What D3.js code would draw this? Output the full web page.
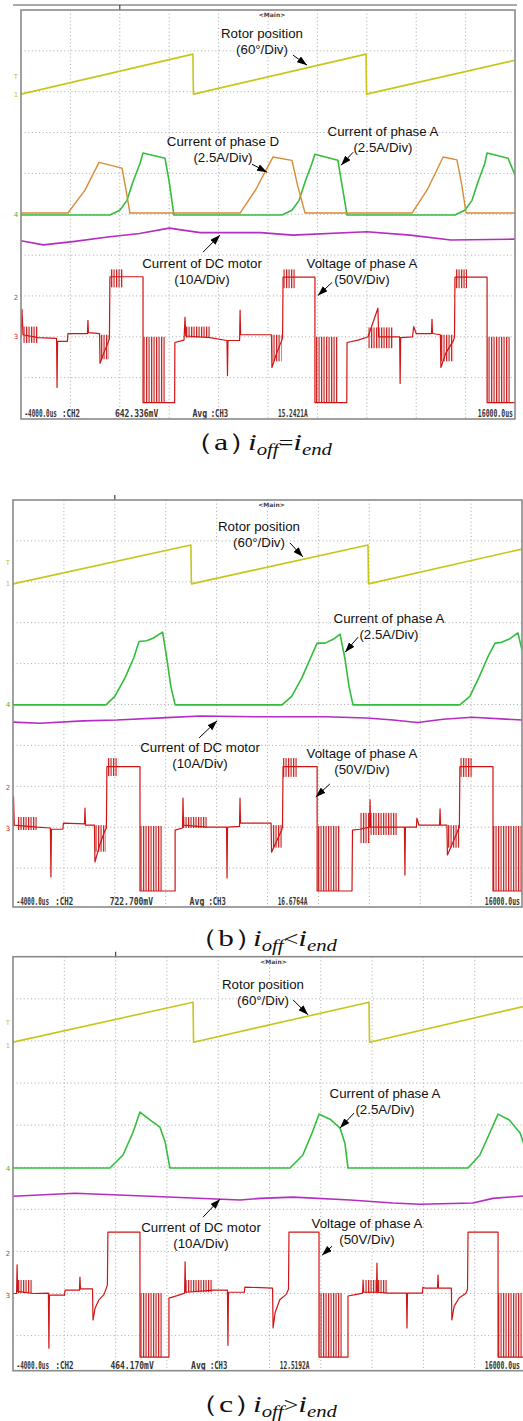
<!DOCTYPE html>
<html>
<head>
<meta charset="utf-8">
<script src="https://cdn.jsdelivr.net/npm/d3@7"></script>
<style>
  body { margin: 0; background: #fff; }
  line.grid { stroke: #a8a8a8; stroke-width: 1; stroke-dasharray: 1,2.6; }
  rect.frame { fill: none; stroke: #8a8a8a; stroke-width: 1.6; }
  path.trace { fill: none; stroke-linejoin: round; }
  text.lbl { font-family: "Liberation Sans", Arial, sans-serif; font-size: 13.3px; fill: #111; text-anchor: middle; }
  text.stat { font-family: "DejaVu Sans Mono", monospace; font-weight: bold; font-size: 10px; fill: #333; }
  text.mark { font-family: "DejaVu Sans", sans-serif; font-size: 7px; }
  text.cap { font-family: "Liberation Serif", "Times New Roman", serif; font-size: 24px; fill: #111; }
</style>
</head>
<body>
<svg id="fig" width="523" height="1421"></svg>
<script>
// time axis of the scope: -4000us .. 16000us, 2 ms/div ; vertical in divisions (+5 top, -5 bottom)
const timeDomain = [-4, 16];

// ---- (a) i_off = i_end ----
const rotorA = [[-4,2.94],[2.96,3.92],[2.98,2.94],[9.97,3.92],[9.99,2.94],[16,3.77]];
const phaseDA = [[-4,0.03],[-2.10,0.03],[-1.41,0.59],[-0.84,1.27],[0.09,1.13],[0.25,0.6],[0.41,0.03],
  [4.87,0.03],[5.5,0.6],[6.20,1.40],[6.97,1.32],[7.2,0.7],[7.50,0.03],
  [11.83,0.03],[12.45,0.6],[13.09,1.40],[13.65,1.33],[13.85,0.7],[14.02,0.03],[16,0.03]];
const phaseAA = [[-4,-0.02],[-0.40,-0.02],[0.0,0.1],[0.29,0.34],[0.53,0.79],[0.82,1.25],[0.94,1.50],[1.83,1.37],[2.0,0.8],[2.19,-0.02],
  [6.57,-0.02],[6.97,0.1],[7.26,0.34],[7.5,0.79],[7.78,1.25],[7.90,1.47],[8.83,1.32],[9.0,0.7],[9.20,-0.02],
  [13.57,-0.02],[13.97,0.1],[14.26,0.34],[14.5,0.79],[14.78,1.25],[14.87,1.50],[15.72,1.37],[16,0.96]];
const dcA = [[-4,-0.65],[-3.1,-0.75],[-1.9,-0.67],[-0.4,-0.55],[0.8,-0.47],[2.0,-0.34],[3.25,-0.45],[5.7,-0.45],
  [7.0,-0.51],[10.0,-0.43],[11.75,-0.51],[13.4,-0.63],[16,-0.61]];
const voltA = [[-4.00,-3.02],[-3.96,-2.33],[-3.92,-2.95],[-3.31,-3.02],[-2.56,-3.04],[-2.54,-4.24],[-2.52,-3.11],
  [-2.12,-3.11],[-2.10,-2.92],[-1.31,-2.92],[-1.29,-2.60],[-1.27,-2.90],[-0.82,-2.92],[-0.80,-3.65],[-0.65,-3.4],
  [-0.45,-3.1],[-0.42,-3.05],[-0.40,-1.53],[0.94,-1.53],[0.94,-4.61],[2.22,-4.61],[2.23,-3.14],[2.60,-3.08],[2.64,-2.52],
  [2.67,-2.98],[3.65,-3.02],[4.34,-3.09],[4.36,-3.95],[4.38,-3.09],[4.85,-3.09],[4.87,-2.35],[4.89,-2.95],
  [6.14,-2.95],[6.16,-3.75],[6.35,-3.4],[6.55,-3.1],[6.59,-3.02],[6.61,-1.54],[7.90,-1.54],[7.90,-4.61],[9.19,-4.61],
  [9.20,-3.14],[9.65,-3.08],[10.05,-3.0],[10.45,-2.30],[10.48,-3.0],[11.33,-3.0],[11.35,-4.14],[11.37,-3.02],
  [11.85,-3.0],[11.9,-2.75],[12.0,-2.92],[12.62,-2.92],[12.64,-2.57],[12.66,-2.92],[12.98,-2.95],[13.0,-3.75],
  [13.2,-3.4],[13.5,-3.1],[13.55,-3.02],[13.57,-1.54],[14.87,-1.54],[14.87,-4.61],[16,-4.61]];
// chopped (PWM) bands of the voltage: [t0, t1, top, bottom]
const chopA = [[-3.92,-3.31,-2.75,-3.15],[-0.80,-0.45,-2.95,-3.55],[-0.40,0.13,-1.35,-1.79],[0.94,1.83,-3.0,-4.61],
  [2.64,3.65,-2.75,-3.02],[6.16,6.55,-2.95,-3.6],[6.61,7.13,-1.35,-1.81],[7.90,8.83,-3.0,-4.61],
  [10.05,11.06,-2.77,-3.28],[13.0,13.5,-2.95,-3.6],[13.57,14.06,-1.35,-1.81],[14.87,15.8,-3.0,-4.61]];
const markA = [3.38, 2.94, 0, -2.05, -3.0];
const statusA = ["-4000.0us", ":CH2", "642.336mV", "Avg", ":CH3", "15.2421A", "16000.0us"];

// ---- (b) i_off < i_end ----
const rotorB = [[-4,2.95],[2.99,3.90],[3.01,2.95],[9.95,3.90],[9.97,2.95],[16,3.80]];
const phaseAB = [[-4,-0.01],[-0.35,-0.01],[0.0,0.2],[0.4,0.65],[0.75,1.15],[0.95,1.54],[1.25,1.56],[1.5,1.62],[1.88,1.77],
  [2.05,1.1],[2.2,0.45],[2.37,-0.01],
  [6.57,-0.01],[6.95,0.2],[7.35,0.65],[7.7,1.15],[7.95,1.50],[8.26,1.50],[8.6,1.6],[8.85,1.72],[9.05,1.1],[9.2,0.45],[9.36,-0.01],
  [13.56,-0.01],[13.95,0.2],[14.3,0.65],[14.65,1.15],[14.94,1.50],[15.2,1.52],[15.5,1.6],[15.84,1.75],[16,1.33]];
const dcB = [[-4,-0.43],[-2.94,-0.46],[-1.24,-0.40],[0.07,-0.38],[2.04,-0.32],[3.35,-0.28],[5.7,-0.30],[8.3,-0.30],
  [9.9,-0.33],[10.93,-0.38],[11.9,-0.44],[12.9,-0.36],[14.05,-0.31],[16,-0.38]];
const voltB = [[-4,-3.0],[-3.98,-2.26],[-3.95,-2.95],[-3.06,-3.0],[-2.53,-3.02],[-2.51,-4.22],[-2.49,-3.05],
  [-2.04,-3.05],[-2.02,-2.90],[-1.19,-2.92],[-1.17,-2.53],[-1.15,-2.95],[-0.80,-2.95],[-0.78,-3.85],[-0.6,-3.45],
  [-0.4,-3.1],[-0.33,-3.02],[-0.31,-1.52],[0.99,-1.52],[0.99,-4.56],[2.37,-4.56],[2.37,-3.07],[2.66,-3.02],[2.68,-2.29],
  [2.70,-2.95],[3.62,-3.0],[4.39,-3.0],[4.41,-4.24],[4.43,-3.0],[4.90,-2.98],[4.92,-2.29],[4.94,-2.9],[6.14,-2.90],
  [6.16,-3.61],[6.35,-3.35],[6.55,-3.08],[6.59,-3.0],[6.61,-1.52],[7.95,-1.52],[7.95,-4.56],[9.32,-4.56],[9.34,-3.07],
  [9.63,-3.05],[10.01,-3.0],[10.03,-2.33],[10.05,-3.0],[11.09,-3.0],[11.38,-3.0],[11.40,-4.17],[11.42,-3.0],
  [11.85,-3.0],[11.87,-2.78],[11.95,-2.95],[12.76,-2.95],[12.78,-2.55],[12.80,-2.95],[13.05,-2.95],[13.07,-3.68],
  [13.3,-3.35],[13.5,-3.05],[13.54,-3.0],[13.56,-1.52],[14.86,-1.52],[14.86,-4.56],[16,-4.56]];
const chopB = [[-3.84,-3.06,-2.75,-3.07],[-0.78,-0.35,-2.95,-3.6],[-0.31,0.13,-1.31,-1.75],[0.99,1.89,-2.97,-4.56],
  [2.68,3.62,-2.75,-3.02],[6.16,6.57,-2.95,-3.5],[6.61,7.16,-1.31,-1.77],[7.95,8.85,-2.97,-4.56],
  [9.63,10.03,-2.65,-3.39],[10.03,11.09,-2.65,-3.19],[13.07,13.54,-2.95,-3.5],[13.56,14.07,-1.31,-1.77],
  [14.86,16,-2.97,-4.56]];
const markB = [3.46, 2.95, -0.01, -2.02, -3.02];
const statusB = ["-4000.0us", ":CH2", "722.700mV", "Avg", ":CH3", "16.6764A", "16000.0us"];

// ---- (c) i_off > i_end ----
const rotorC = [[-4,2.97],[3.02,3.92],[3.04,2.97],[9.88,3.92],[9.90,2.97],[16,3.83]];
const phaseAC = [[-4,-0.02],[-0.22,-0.02],[0.29,0.29],[0.68,0.83],[0.95,1.31],[1.3,1.14],[1.73,0.95],[1.93,0.6],[2.12,-0.02],
  [6.80,-0.02],[7.3,0.29],[7.67,0.83],[7.93,1.26],[8.36,1.14],[8.75,0.93],[8.94,0.57],[9.06,-0.02],
  [13.74,-0.02],[14.2,0.29],[14.6,0.83],[14.91,1.26],[15.35,1.12],[15.77,0.81],[16,0.4]];
const dcC = [[-4,-0.69],[-1.58,-0.62],[1.34,-0.69],[4.85,-0.78],[5.63,-0.74],[6.92,-0.71],[9.14,-0.78],
  [10.81,-0.85],[11.87,-0.88],[13.93,-0.85],[14.71,-0.74],[15.77,-0.69],[16,-0.68]];
const voltC = [[-4,-3.0],[-3.86,-3.0],[-3.84,-2.32],[-3.82,-2.95],[-3.22,-3.0],[-2.62,-2.99],[-2.60,-4.3],[-2.58,-3.04],
  [-1.99,-3.04],[-1.97,-2.92],[-1.41,-2.92],[-1.39,-2.61],[-1.37,-2.89],[-0.90,-2.89],[-0.88,-3.63],[-0.8,-3.35],
  [-0.65,-3.15],[-0.45,-3.02],[-0.32,-2.8],[-0.30,-1.54],[0.95,-1.54],[0.95,-4.51],[2.08,-4.51],[2.08,-3.11],[2.4,-3.05],
  [2.69,-2.99],[2.71,-2.25],[2.73,-2.97],[3.80,-2.92],[4.36,-2.92],[4.38,-4.23],[4.40,-2.97],[5.02,-2.97],
  [5.04,-2.85],[6.12,-2.87],[6.14,-3.82],[6.22,-3.45],[6.4,-3.15],[6.65,-3.02],[6.74,-2.9],[6.76,-1.54],[7.93,-1.54],
  [7.93,-4.51],[9.06,-4.51],[9.06,-3.06],[9.4,-3.02],[9.63,-2.99],[9.65,-2.68],[9.67,-2.97],[10.17,-2.97],
  [10.19,-2.28],[10.21,-2.97],[10.62,-2.99],[11.34,-2.99],[11.36,-3.82],[11.38,-2.99],[11.96,-2.99],
  [11.98,-2.85],[12.05,-2.87],[12.55,-2.87],[12.57,-2.56],[12.59,-2.87],[13.09,-2.87],[13.11,-3.63],
  [13.2,-3.3],[13.4,-3.1],[13.65,-3.0],[13.72,-2.9],[13.74,-1.54],[14.91,-1.54],[14.91,-4.51],[16,-4.51]];
const chopC = [[-3.81,-3.22,-2.68,-2.99],[0.95,1.85,-2.99,-4.51],[2.71,3.80,-2.68,-2.97],[7.93,8.83,-2.99,-4.51],
  [9.72,10.62,-2.68,-2.99],[14.91,16,-2.99,-4.51]];
const markC = [3.43, 2.90, -0.02, -2.04, -3.04];
const statusC = ["-4000.0us", ":CH2", "464.170mV", "Avg", ":CH3", "12.5192A", "16000.0us"];

const labelText = {
  rotor: ["Rotor position", "(60°/Div)"],
  phaseD: ["Current of phase D", "(2.5A/Div)"],
  phaseA: ["Current of phase A", "(2.5A/Div)"],
  dc: ["Current of DC motor", "(10A/Div)"],
  volt: ["Voltage of phase A", "(50V/Div)"]
};
const markNames = ["T", "1", "4", "2", "3"];

// ---- styling / layout ----
const colors = { rotor: "#c6c61a", phaseD: "#d98a36", phaseA: "#33bd3c", dc: "#b52cc2", volt: "#d11414", hatch: "#c41c1c" };
const markColors = [colors.rotor, colors.rotor, colors.phaseA, colors.dc, colors.volt];
// x of each status item as a fraction of the frame width, and its horizontal squeeze
const statusX = [0.003, 0.079, 0.186, 0.343, 0.38, 0.516];
const statusSqueeze = [0.6, 0.75, 0.8, 0.82, 0.72, 0.62, 0.65];

const panels = [
  { id: "a", x: 21, y: 10, w: 494, h: 409, divW: 49.4, divH: 40.85, statusRight: 2,
    rotor: rotorA, phaseD: phaseDA, phaseA: phaseAA, dc: dcA, volt: voltA, chops: chopA, marks: markA, status: statusA,
    labels: [["rotor", 241, 28, 7.58, 3.65, -14, -10], ["phaseD", 202, 136, 5.96, 1.03, -15, -8],
             ["phaseA", 362, 126, 8.96, 1.2, 12, -13], ["dc", 181, 258, 4.06, -0.51, -17, 17],
             ["volt", 341, 258, 8.02, -1.99, 14, -13]],
    caption: { x: 195, y: 450, tag: "（a）", rel: "=" } },
  { id: "b", x: 13, y: 500, w: 509, h: 407, divW: 50.9, divH: 40.9, statusRight: 2,
    rotor: rotorB, phaseA: phaseAB, dc: dcB, volt: voltB, chops: chopB, marks: markB, status: statusB,
    labels: [["rotor", 246, 31, 7.39, 3.61, -13, -14], ["phaseA", 376, 123, 9.05, 1.28, 13, -15],
             ["dc", 187, 252, 4.02, -0.40, -18, 17], ["volt", 349, 258, 7.9, -2.26, 14, -13]],
    caption: { x: 200, y: 946, tag: "（b）", rel: "<" } },
  { id: "c", x: 13, y: 956.7, w: 513, h: 414, divW: 51.3, divH: 42.1, statusRight: 6,
    rotor: rotorC, phaseA: phaseAC, dc: dcC, volt: voltC, chops: chopC, marks: markC, status: statusC,
    labels: [["rotor", 250, 32, 7.50, 3.62, -15, -15], ["phaseA", 372, 141, 8.75, 0.93, 14, -15],
             ["dc", 188, 275, 4.07, -0.76, -17, 18], ["volt", 354, 271, 8.05, -2.09, 10, -9]],
    caption: { x: 200, y: 1412, tag: "（c）", rel: ">" } }
];

const svg = d3.select("#fig");
const defs = svg.append("defs");
defs.append("pattern").attr("id", "hatch").attr("patternUnits", "userSpaceOnUse")
  .attr("width", 2.5).attr("height", 6)
  .append("rect").attr("width", 1.2).attr("height", 6).attr("fill", colors.hatch);
defs.append("marker").attr("id", "arrow").attr("viewBox", "0 0 10 7").attr("refX", 10).attr("refY", 3.5)
  .attr("markerWidth", 10).attr("markerHeight", 7).attr("markerUnits", "userSpaceOnUse").attr("orient", "auto")
  .append("path").attr("d", "M0,0L10,3.5L0,7z").attr("fill", "#000");

// stray border line above panel (a)
svg.append("line").attr("x1", 13).attr("x2", 517).attr("y1", 5).attr("y2", 5)
  .attr("stroke", "#555").attr("stroke-width", 1);

function drawPanel(p) {
  const x = d3.scaleLinear().domain(timeDomain).range([0, 10 * p.divW]);
  const y = d3.scaleLinear().domain([5, -5]).range([0, 10 * p.divH]);
  const g = svg.append("g").attr("transform", `translate(${p.x},${p.y})`);

  defs.append("clipPath").attr("id", "clip-" + p.id)
    .append("rect").attr("width", p.w).attr("height", p.h);

  // dotted graticule
  g.append("g").selectAll("line")
    .data(x.ticks(10).filter(t => t > timeDomain[0] && t < timeDomain[1]))
    .join("line").attr("class", "grid")
    .attr("x1", d => x(d)).attr("x2", d => x(d)).attr("y1", 0).attr("y2", p.h);
  g.append("g").selectAll("line")
    .data(y.ticks(10).filter(v => y(v) > 1 && y(v) < p.h - 1))
    .join("line").attr("class", "grid")
    .attr("x1", 0).attr("x2", p.w).attr("y1", d => y(d)).attr("y2", d => y(d));

  // scope header and trigger tick
  g.append("text").attr("x", p.w / 2 + 4).attr("y", 7).attr("text-anchor", "middle")
    .attr("font-size", 6).attr("font-weight", "bold").attr("font-family", "DejaVu Sans").attr("fill", "#444")
    .text("<Main>");
  g.append("line").attr("x1", x(0)).attr("x2", x(0)).attr("y1", -5).attr("y2", 0)
    .attr("stroke", "#444").attr("stroke-width", 1.2);

  // status row (condensed scope font)
  const st = g.append("g");
  p.status.forEach((s, i) => {
    const last = i === p.status.length - 1;
    const sx = last ? p.w - p.statusRight : statusX[i] * p.w + 2;
    st.append("text").attr("class", "stat")
      .attr("transform", `translate(${sx},${p.h - 2}) scale(${statusSqueeze[i]},1)`)
      .attr("text-anchor", last ? "end" : "start")
      .text(s);
  });

  // traces
  const plot = g.append("g").attr("clip-path", `url(#clip-${p.id})`);
  const line = d3.line().x(d => x(d[0])).y(d => y(d[1]));
  plot.append("path").datum(p.dc).attr("class", "trace")
    .attr("stroke", colors.dc).attr("stroke-width", 1.6).attr("d", line);
  plot.append("g").selectAll("rect").data(p.chops).join("rect")
    .attr("x", d => x(d[0])).attr("width", d => x(d[1]) - x(d[0]))
    .attr("y", d => y(d[2])).attr("height", d => y(d[3]) - y(d[2]))
    .attr("fill", "url(#hatch)");
  plot.append("path").datum(p.volt).attr("class", "trace")
    .attr("stroke", colors.volt).attr("stroke-width", 1.2).attr("d", line);
  plot.append("path").datum(p.phaseA).attr("class", "trace")
    .attr("stroke", colors.phaseA).attr("stroke-width", 1.6).attr("d", line);
  if (p.phaseD) {
    plot.append("path").datum(p.phaseD).attr("class", "trace")
      .attr("stroke", colors.phaseD).attr("stroke-width", 1.4).attr("d", line);
  }
  plot.append("path").datum(p.rotor).attr("class", "trace")
    .attr("stroke", colors.rotor).attr("stroke-width", 1.6).attr("d", line);

  g.append("rect").attr("class", "frame").attr("width", p.w).attr("height", p.h);

  // channel ground markers at the left edge
  g.append("g").selectAll("text").data(p.marks).join("text").attr("class", "mark")
    .attr("x", -5).attr("y", d => y(d) + 2.5).attr("text-anchor", "middle")
    .attr("fill", (d, i) => markColors[i]).text((d, i) => markNames[i]);

  // annotations
  p.labels.forEach(([key, lx, ly, tt, tv, dx, dy]) => {
    const tx = x(tt), ty = y(tv);
    g.append("line").attr("x1", tx + dx).attr("y1", ty + dy).attr("x2", tx).attr("y2", ty)
      .attr("stroke", "#000").attr("stroke-width", 1).attr("marker-end", "url(#arrow)");
    const t = g.append("text").attr("class", "lbl").attr("x", lx).attr("y", ly);
    labelText[key].forEach((s, i) => {
      t.append("tspan").attr("x", lx).attr("dy", i ? 16 : 0).text(s);
    });
  });

  // caption: "(x)" tag, then i_off ? i_end
  const c = p.caption;
  svg.append("text").attr("class", "cap")
    .attr("x", c.x - 13).attr("y", c.y)
    .attr("font-family", "'Liberation Serif', 'Noto Sans CJK SC', serif").attr("font-size", 22)
    .attr("textLength", 78).attr("lengthAdjust", "spacingAndGlyphs")
    .text(c.tag);
  const m = svg.append("text").attr("class", "cap")
    .attr("transform", `translate(${c.x + 53},${c.y}) scale(1.3,1)`);
  m.append("tspan").attr("font-style", "italic").text("i");
  m.append("tspan").attr("font-style", "italic").attr("font-size", 16).attr("dy", 5).text("off");
  m.append("tspan").attr("font-size", 20).attr("dy", -5).text(c.rel);
  m.append("tspan").attr("font-style", "italic").text("i");
  m.append("tspan").attr("font-style", "italic").attr("font-size", 16).attr("dy", 5).text("end");
}

panels.forEach(drawPanel);
</script>
</body>
</html>
